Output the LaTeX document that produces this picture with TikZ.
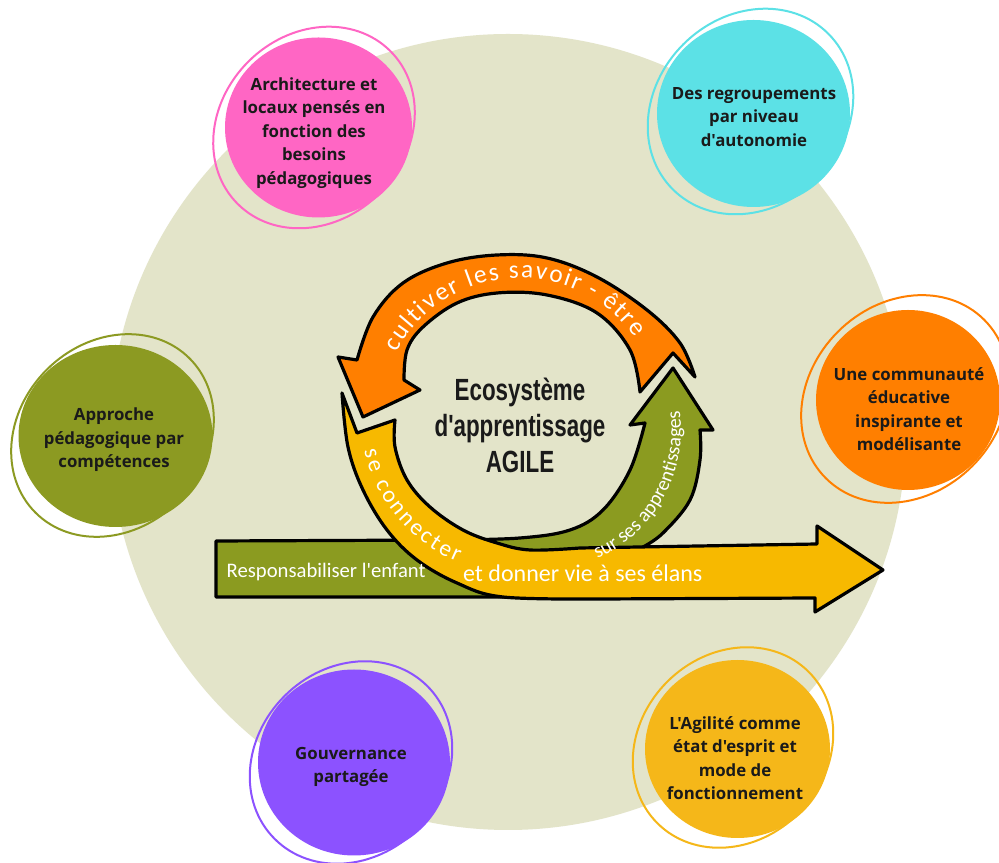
\documentclass[tikz,border=0pt]{standalone}
\usepackage{fontspec}
\usepackage{graphicx}
\setmainfont{Open Sans}[Ligatures=TeXOff]
\newfontfamily\titlefont{Liberation Sans}[Ligatures=TeXOff]
\newfontfamily\hwfont{Carlito}[Ligatures=TeXOff]
\usetikzlibrary{decorations.text}
\definecolor{beige}{HTML}{E3E4C9}
\definecolor{pinkc}{HTML}{FF66C4}
\definecolor{cyanc}{HTML}{5CE1E6}
\definecolor{olivec}{HTML}{8C9A22}
\definecolor{orangec}{HTML}{FF7F00}
\definecolor{purplec}{HTML}{8C52FF}
\definecolor{goldc}{HTML}{F5B719}
\definecolor{yellowar}{HTML}{F7B900}
\definecolor{greenar}{HTML}{8B9B20}
\definecolor{txt}{HTML}{1A1A1A}
\newcommand\cond[1]{\scalebox{0.73}[1]{#1}}
\tikzset{
  ring/.style={draw=#1, line width=1.5pt},
  btext/.style={font=\bfseries\fontsize{12.6}{17.6}\selectfont, text=txt, align=center},
  arrowline/.style={draw=black, line width=2.4pt, line join=round},
  hand/.style={font=\hwfont\fontsize{15.5}{18}\selectfont, text=white}
}
\begin{document}
\begin{tikzpicture}[x=0.75pt,y=0.75pt]
\useasboundingbox (0,0) rectangle (999,863);
\clip (0,0) rectangle (999,863);
\fill[white] (0,0) rectangle (999,863);
\fill[beige] (508,431) circle[radius=398];

% bubbles
\fill[pinkc] (318.5,735.5) ellipse[x radius=93.5, y radius=90];
\draw[ring=pinkc, rotate around={45:(314,735.5)}] (314,735.5) ellipse[x radius=108, y radius=93];
\node[btext] (b1) at (314,730) {Architecture et\\locaux pensés en\\fonction des\\besoins\\pédagogiques};

\fill[cyanc] (753.5,749.5) ellipse[x radius=96.5, y radius=93.5];
\draw[ring=cyanc, rotate around={45:(750.5,751.5)}] (750.5,751.5) ellipse[x radius=110, y radius=95];
\node[btext] (b2) at (754,746) {Des regroupements\\par niveau\\d'autonomie};

\fill[olivec] (115.5,427) ellipse[x radius=97, y radius=91];
\draw[ring=olivec, rotate around={45:(112.5,427.5)}] (112.5,427.5) ellipse[x radius=109, y radius=93];
\node[btext] (b3) at (114,423) {Approche\\pédagogique par\\compétences};

\fill[orangec] (908,463) ellipse[x radius=92, y radius=90];
\draw[ring=orangec, rotate around={45:(905,464)}] (905,464) ellipse[x radius=112, y radius=95];
\node[btext] (b4) at (909,454) {Une communauté\\éducative\\inspirante et\\modélisante};

\fill[purplec] (354,100.5) ellipse[x radius=96, y radius=93];
\draw[ring=purplec, rotate around={45:(351,100.5)}] (351,100.5) ellipse[x radius=108, y radius=94];
\node[btext] (b5) at (351,96) {Gouvernance\\partagée};

\fill[goldc] (737.5,114) ellipse[x radius=92.5, y radius=89];
\draw[ring=goldc, rotate around={45:(733,115.5)}] (733,115.5) ellipse[x radius=107, y radius=93];
\node[btext] (b6) at (735,105) {L'Agilité comme\\état d'esprit et\\mode de\\fonctionnement};

% green arrow
\draw[arrowline, fill=greenar] (216,266) -- (216,322) -- (450,323)
  -- plot[smooth, tension=0.6] coordinates {(450,323) (520,325) (570,333) (603,353) (630,393) (645,440)}
  -- (630,438) -- (673,495) -- (713,433) -- (700,433)
  -- plot[smooth, tension=0.6] coordinates {(700,433) (700,403) (690,363) (663,330) (643,316)}
  -- (600,280) -- (560,266) -- cycle;

% yellow arrow
\draw[arrowline, fill=yellowar] (342,470) -- (357,430) -- (395,443)
  -- plot[smooth, tension=0.6] coordinates {(395,443) (395,416) (407,383) (430,356) (463,333) (497,320) (530,313) (580,315)}
  -- (817,319) -- (817,337) -- (883,293) -- (815,251) -- (815,265) -- (600,264)
  -- plot[smooth, tension=0.6] coordinates {(600,264) (503,266) (457,280) (417,303) (387,333) (363,373) (348,416) (342,470)}
  -- cycle;

% orange arrow
\draw[arrowline, fill=orangec] (338,506) -- (363,446) -- (420,473) -- (404,483)
  -- plot[smooth, tension=0.6] coordinates {(404,483) (407,513) (423,536) (457,560) (497,570) (547,568) (597,550) (630,513) (640,471)}
  -- (673,510) -- (695,486)
  -- plot[smooth, tension=0.6] coordinates {(695,486) (680,520) (647,553) (597,586) (547,605) (497,608) (447,600) (403,580) (373,546) (357,503)}
  -- cycle;

% handwritten labels
\node[hand, anchor=base west] (lab1) at (222,285) {Responsabiliser l'enfant};
\path[decorate, decoration={text along path, text align=fit to path, text={|\hwfont\fontsize{17.5}{22}\selectfont\color{white}|se connecter}}]
  (520,448) ++(193:160) arc[start angle=193, end angle=247, radius=160];
\path[decorate, decoration={text along path, text={|\hwfont\fontsize{18}{22}\selectfont\color{white}|et donner vie à ses élans}}]
  (463,281) -- (780,281);
\path[decorate, decoration={text along path, text={|\hwfont\fontsize{15}{18}\selectfont\color{white}|sur ses apprentissages}}]
  (540,433) ++(-66:141) arc[start angle=-66, end angle=12, radius=141];
\path[decorate, decoration={text along path, text align=fit to path, text={|\hwfont\fontsize{19}{22}\selectfont\color{white}|cultiver les savoir - être}}]
  (520,445) ++(152:140) arc[start angle=152, end angle=35, radius=140];

% centre title
\node[font=\titlefont\bfseries\fontsize{23}{27}\selectfont, text=txt, align=center] (title) at (520,438)
  {\cond{Ecosystème}\\\cond{d'apprentissage}\\\cond{AGILE}};
\end{tikzpicture}
\end{document}
